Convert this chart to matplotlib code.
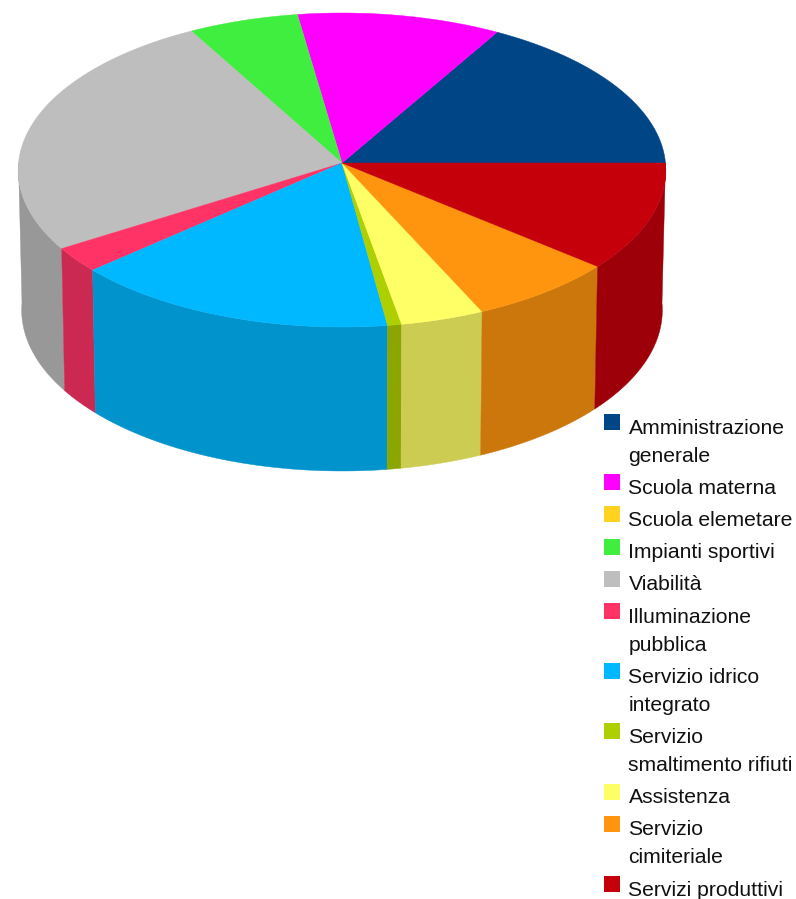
import numpy as np
import matplotlib
matplotlib.use("Agg")
import matplotlib.pyplot as plt
from matplotlib.patches import Polygon, Rectangle
from matplotlib.colors import to_rgb

plt.rcParams['font.family'] = ['Liberation Sans', 'DejaVu Sans']

categories = ["Amministrazione\ngenerale", "Scuola materna", "Scuola elemetare",
              "Impianti sportivi", "Viabilità", "Illuminazione\npubblica",
              "Servizio idrico\nintegrato", "Servizio\nsmaltimento rifiuti",
              "Assistenza", "Servizio\ncimiteriale", "Servizi produttivi"]
values = [16.7, 10.6, 0.0, 5.75, 25.9, 2.6, 15.6, 0.67, 4.0, 7.1, 11.08]
colors = ["#004586", "#ff00ff", "#ffd320", "#40ee40", "#bebebe", "#ff3366",
          "#00b8ff", "#aecf00", "#ffff66", "#ff950e", "#c5000b"]

SHADE = 0.8
K = 0.0446
HUB_X = 342
TOP = dict(y0=163, a=323.5, b=156.7)
BOT = dict(y0=303, a=320, b=160.5)


def project(theta, y0, a, b):
    c, s = np.cos(theta), np.sin(theta)
    d = 1 + K * s
    return np.column_stack([HUB_X + a * c / d, y0 - b * s / d])


def arc(start, end):
    n = max(2, int(np.degrees(end - start)) * 2 + 2)
    return np.linspace(start, end, n)


fig = plt.figure(figsize=(7.96, 8.99), dpi=100)
ax = fig.add_axes([0, 0, 1, 1])
ax.set_xlim(0, 796)
ax.set_ylim(899, 0)
ax.axis('off')

angles = np.concatenate([[0], np.cumsum(values)]) / np.sum(values) * 2 * np.pi

# side walls: only the front half is visible
for v, col, a0, a1 in zip(values, colors, angles[:-1], angles[1:]):
    lo, hi = max(a0, np.pi), min(a1, 2 * np.pi)
    if v <= 0 or hi <= lo:
        continue
    th = arc(lo, hi)
    pts = np.vstack([project(th, **TOP), project(th[::-1], **BOT)])
    shade = tuple(c * SHADE for c in to_rgb(col))
    ax.add_patch(Polygon(pts, closed=True, fc=shade, ec=shade, lw=0.3, zorder=1))

# top face
for v, col, a0, a1 in zip(values, colors, angles[:-1], angles[1:]):
    if v <= 0:
        continue
    pts = np.vstack([[HUB_X, TOP['y0']], project(arc(a0, a1), **TOP)])
    ax.add_patch(Polygon(pts, closed=True, fc=col, ec=col, lw=0.3, zorder=2))

# legend
LEG_X, LEG_Y, SW, TEXT_X = 604, 414, 16, 628.5
ROW, LINE = 32.2, 28
y = LEG_Y
for label, col in zip(categories, colors):
    ax.add_patch(Rectangle((LEG_X, y), SW, SW, fc=col, ec='none', zorder=3))
    for i, part in enumerate(label.split("\n")):
        ax.text(TEXT_X, y + 19.5 + i * LINE, part, fontsize=15.2, color='#111111',
                ha='left', va='baseline', zorder=3)
    y += ROW + LINE * label.count("\n")

fig.savefig("out.png", dpi=100)
